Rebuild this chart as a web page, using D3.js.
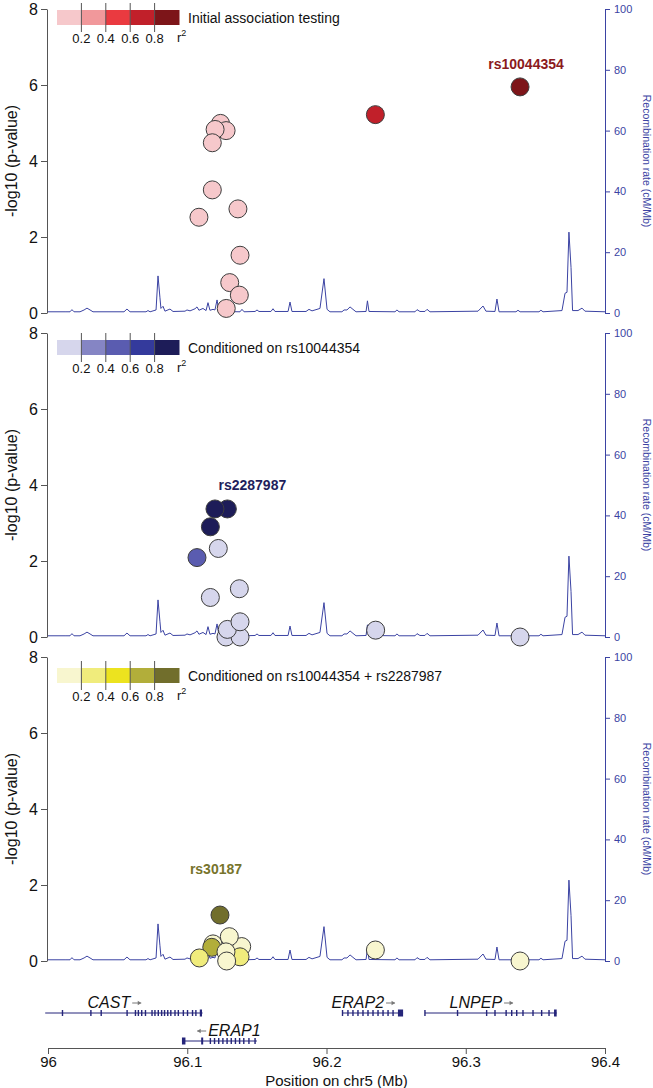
<!DOCTYPE html>
<html>
<head>
<meta charset="utf-8">
<script src="https://cdn.jsdelivr.net/npm/d3@7"></script>
<style>
  body { margin: 0; background: #fff; }
  svg { font-family: "Liberation Sans", Arial, sans-serif; }
</style>
</head>
<body>
<div id="chart"></div>
<script>
// ---- data ----
const r2Breaks = [0.2, 0.4, 0.6, 0.8];
const xTicks = [96, 96.1, 96.2, 96.3, 96.4];
const yTicks = [0, 2, 4, 6, 8];
const recombTicks = [0, 20, 40, 60, 80, 100];

const panelTitles = [
    "Initial association testing",
    "Conditioned on rs10044354",
    "Conditioned on rs10044354 + rs2287987"
];

const redPalette = ["#f6c8cb", "#f1989b", "#ea3a40", "#c1202a", "#7d1519"];
const bluePalette = ["#d6d6ec", "#8585c4", "#5a5cb0", "#343a9c", "#1d1c58"];
const yellowPalette = ["#f8f6cf", "#f0ec7c", "#ece31f", "#b2ae3a", "#716e2c"];

// [position Mb, -log10 p, r2]
const initialSnps = [
    [96.1239, 4.99, 0.1], [96.1279, 4.80, 0.1], [96.1200, 4.83, 0.1],
    [96.1180, 4.48, 0.1], [96.1180, 3.24, 0.1], [96.1364, 2.74, 0.1],
    [96.1084, 2.52, 0.1], [96.1379, 1.52, 0.1], [96.1305, 0.80, 0.1],
    [96.1374, 0.47, 0.1], [96.1280, 0.12, 0.1], [96.2351, 5.22, 0.7],
    [96.3390, 5.95, 1.0]
];
const cond1Snps = [
    [96.1278, 0.0, 0.1], [96.1379, 0.0, 0.1], [96.1288, 0.20, 0.1],
    [96.1379, 0.40, 0.1], [96.1166, 1.04, 0.1], [96.1374, 1.27, 0.1],
    [96.2353, 0.18, 0.1], [96.3390, 0.0, 0.1], [96.1070, 2.09, 0.5],
    [96.1223, 2.33, 0.1], [96.1166, 2.90, 0.9], [96.1288, 3.37, 0.9],
    [96.1199, 3.37, 1.0]
];
const cond2Snps = [
    [96.1391, 0.38, 0.1], [96.1185, 0.45, 0.1], [96.1176, 0.36, 0.7],
    [96.1302, 0.64, 0.1], [96.1087, 0.08, 0.3], [96.1379, 0.11, 0.3],
    [96.1278, 0.24, 0.1], [96.1283, 0.0, 0.1], [96.2351, 0.29, 0.1],
    [96.3390, 0.0, 0.1], [96.1235, 1.21, 1.0]
];

const leadSnps = [
    { name: "rs10044354", pos: 96.3390, logp: 5.95 },
    { name: "rs2287987", pos: 96.1288, logp: 3.37 },
    { name: "rs30187", pos: 96.1235, logp: 1.21 }
];

// [position Mb, cM/Mb]
const recombination = [
    [96.0000, 0.4], [96.0129, 0.4], [96.0158, 0.4], [96.0172, 1.1], [96.0187, 0.4],
    [96.0230, 0.4], [96.0259, 1.0], [96.0280, 1.6], [96.0302, 1.0], [96.0323, 0.4],
    [96.0546, 0.4], [96.0567, 1.3], [96.0589, 0.4], [96.0704, 0.4], [96.0718, 0.8],
    [96.0733, 0.4], [96.0776, 1.0], [96.0790, 12.2], [96.0804, 5.0], [96.0811, 1.5],
    [96.0826, 2.2], [96.0840, 0.6], [96.0876, 1.3], [96.0898, 0.5], [96.0984, 0.6],
    [96.0998, 1.0], [96.1020, 0.7], [96.1056, 1.4], [96.1070, 2.0], [96.1084, 0.9],
    [96.1113, 1.5], [96.1135, 0.8], [96.1149, 3.4], [96.1163, 0.9], [96.1185, 1.2],
    [96.1199, 1.0], [96.1214, 4.3], [96.1228, 0.5], [96.1379, 0.4], [96.1393, 1.2],
    [96.1408, 0.4], [96.1487, 0.5], [96.1501, 1.0], [96.1515, 0.5], [96.1601, 0.5],
    [96.1616, 1.4], [96.1630, 0.5], [96.1724, 0.5], [96.1738, 3.6], [96.1752, 0.5],
    [96.1853, 0.5], [96.1874, 1.2], [96.1896, 0.7], [96.1953, 1.5], [96.1982, 11.3],
    [96.2004, 1.2], [96.2025, 0.4], [96.2111, 0.4], [96.2126, 1.0], [96.2147, 1.0],
    [96.2169, 2.0], [96.2190, 1.2], [96.2212, 0.4], [96.2284, 0.5], [96.2294, 4.0],
    [96.2305, 0.5], [96.2492, 0.4], [96.2506, 1.0], [96.2521, 0.4], [96.2636, 0.4],
    [96.2650, 1.1], [96.2671, 0.5], [96.2707, 0.5], [96.2722, 1.2], [96.2743, 0.4],
    [96.3088, 0.6], [96.3124, 2.3], [96.3145, 0.6], [96.3210, 0.5], [96.3224, 4.6],
    [96.3239, 0.4], [96.3361, 0.4], [96.3375, 0.9], [96.3390, 0.4], [96.3526, 0.4],
    [96.3540, 0.9], [96.3555, 0.4], [96.3691, 0.8], [96.3713, 6.5], [96.3727, 6.8],
    [96.3741, 26.6], [96.3756, 15.0], [96.3767, 0.8], [96.3806, 0.8], [96.3835, 1.6],
    [96.3856, 0.6], [96.4000, 0.4]
];

const genes = [
    { name: "CAST", start: 95.998, end: 96.111, strand: 1, row: 0,
      exons: [96.0104, 96.0308, 96.0382, 96.0568, 96.0628, 96.0649, 96.0673, 96.0700,
              96.0747, 96.0768, 96.0792, 96.0816, 96.0837, 96.0860, 96.0882, 96.0912,
              96.0936, 96.0972, 96.1002, 96.1038, 96.1062],
      blocks: [[96.1090, 96.1106]] },
    { name: "ERAP1", start: 96.0962, end: 96.1500, strand: -1, row: 1,
      exons: [96.1166, 96.1196, 96.1226, 96.1256, 96.1286, 96.1316, 96.1346, 96.1376,
              96.1406, 96.1443, 96.1487],
      blocks: [[96.0962, 96.0987], [96.1100, 96.1112]] },
    { name: "ERAP2", start: 96.2115, end: 96.2550, strand: 1, row: 0,
      exons: [96.2115, 96.2154, 96.2190, 96.2226, 96.2262, 96.2298, 96.2334, 96.2370,
              96.2406, 96.2442, 96.2478],
      blocks: [[96.2513, 96.2550]] },
    { name: "LNPEP", start: 96.2707, end: 96.3653, strand: 1, row: 0,
      exons: [96.2707, 96.2941, 96.3150, 96.3210, 96.3290, 96.3330, 96.3366, 96.3411,
              96.3483, 96.3545, 96.3598],
      blocks: [[96.3634, 96.3653]] }
];

const panels = [
    { title: panelTitles[0], snps: initialSnps, palette: redPalette, lead: leadSnps[0], labelColor: "#8b1a1c" },
    { title: panelTitles[1], snps: cond1Snps, palette: bluePalette, lead: leadSnps[1], labelColor: "#1f1f5c" },
    { title: panelTitles[2], snps: cond2Snps, palette: yellowPalette, lead: leadSnps[2], labelColor: "#77742c" }
];

// ---- layout ----
const width = 653, height = 1088;
const recombColor = "#3b43a3";
const labelNudge = [[6, -18], [25, -19], [-4, -41]];
const legendTops = [10, 340, 668];

const svg = d3.select("#chart")
    .append("svg")
    .attr("width", width)
    .attr("height", height);

const x = d3.scaleLinear().domain([96, 96.4]).range([48, 605]);

panels.forEach((p, i) => {
    const top = 9 + i * 324, bottom = top + 304;
    const y = d3.scaleLinear().domain([0, 8]).range([bottom, top]);
    const yR = d3.scaleLinear().domain([0, 100]).range([bottom, top]);
    const color = d3.scaleThreshold().domain(r2Breaks).range(p.palette);
    const g = svg.append("g");

    // recombination rate
    g.append("path")
        .datum(recombination)
        .attr("fill", "none")
        .attr("stroke", recombColor)
        .attr("stroke-width", 1)
        .attr("d", d3.line().x(d => x(d[0])).y(d => yR(d[1])));

    // left axis
    const la = g.append("g")
        .attr("transform", `translate(${x(96) - 1},0)`)
        .call(d3.axisLeft(y).tickValues(yTicks).tickSize(6).tickSizeOuter(0).tickPadding(3));
    la.select(".domain").attr("stroke", "#555");
    la.selectAll(".tick line").attr("stroke", "#555");
    la.selectAll("text").attr("font-size", 16).attr("fill", "#111").attr("font-family", "Liberation Sans, Arial");

    g.append("text")
        .attr("transform", `translate(17,${(top + bottom) / 2}) rotate(-90)`)
        .attr("text-anchor", "middle")
        .attr("font-size", 16)
        .attr("fill", "#111")
        .text("-log10 (p-value)");

    // right axis
    const ra = g.append("g")
        .attr("transform", `translate(${x(96.4)},0)`)
        .call(d3.axisRight(yR).tickValues(recombTicks).tickSize(5).tickSizeOuter(0).tickPadding(4));
    ra.select(".domain").attr("stroke", recombColor);
    ra.selectAll(".tick line").attr("stroke", recombColor);
    ra.selectAll("text").attr("font-size", 11).attr("fill", recombColor).attr("font-family", "Liberation Sans, Arial");

    g.append("text")
        .attr("transform", `translate(643,${(top + bottom) / 2}) rotate(90)`)
        .attr("text-anchor", "middle")
        .attr("font-size", 10.5)
        .attr("fill", recombColor)
        .text("Recombination rate (cM/Mb)");

    // snps
    g.selectAll("circle.snp")
        .data(p.snps)
        .join("circle")
        .attr("class", "snp")
        .attr("cx", d => x(d[0]))
        .attr("cy", d => y(d[1]))
        .attr("r", 9)
        .attr("fill", d => color(d[2]))
        .attr("stroke", "#3d3d3d")
        .attr("stroke-width", 1);

    g.append("text")
        .attr("x", x(p.lead.pos) + labelNudge[i][0])
        .attr("y", y(p.lead.logp) + labelNudge[i][1])
        .attr("text-anchor", "middle")
        .attr("font-size", 14)
        .attr("font-weight", "bold")
        .attr("fill", p.labelColor)
        .text(p.lead.name);

    // r2 legend
    const lx = 57, segW = 24.4, ly = legendTops[i], lh = 15;
    const leg = g.append("g");
    leg.selectAll("rect")
        .data(p.palette)
        .join("rect")
        .attr("x", (d, k) => lx + k * segW)
        .attr("y", ly)
        .attr("width", segW + 0.5)
        .attr("height", lh)
        .attr("fill", d => d);
    leg.selectAll("line")
        .data(r2Breaks)
        .join("line")
        .attr("x1", (d, k) => lx + (k + 1) * segW)
        .attr("x2", (d, k) => lx + (k + 1) * segW)
        .attr("y1", ly - 7)
        .attr("y2", ly + lh + 7)
        .attr("stroke", "#555")
        .attr("stroke-width", 1);
    leg.selectAll("text.tick")
        .data(r2Breaks)
        .join("text")
        .attr("class", "tick")
        .attr("x", (d, k) => lx + (k + 1) * segW)
        .attr("y", ly + lh + 18)
        .attr("text-anchor", "middle")
        .attr("font-size", 13)
        .attr("fill", "#111")
        .text(d => d.toFixed(1));
    const r2 = leg.append("text")
        .attr("x", lx + 5 * segW - 2)
        .attr("y", ly + lh + 17)
        .attr("font-size", 13)
        .attr("fill", "#111");
    r2.append("tspan").text("r");
    r2.append("tspan").attr("dy", -6).attr("font-size", 9).text("2");
    leg.append("text")
        .attr("x", lx + 5 * segW + 9)
        .attr("y", ly + lh / 2 + 5)
        .attr("font-size", 14)
        .attr("fill", "#111")
        .text(p.title);
});

// ---- gene track ----
const rowY = [1013, 1041];
const geneColor = "#25257a";
const gt = svg.append("g");

genes.forEach(gn => {
    const gy = rowY[gn.row];
    gt.append("line")
        .attr("x1", x(gn.start)).attr("x2", x(gn.end))
        .attr("y1", gy).attr("y2", gy)
        .attr("stroke", geneColor).attr("stroke-width", 1);
    gt.selectAll(null)
        .data(gn.exons)
        .join("rect")
        .attr("x", d => x(d) - 0.7)
        .attr("y", gy - 3)
        .attr("width", 1.4)
        .attr("height", 6)
        .attr("fill", geneColor);
    gt.selectAll(null)
        .data(gn.blocks)
        .join("rect")
        .attr("x", d => x(d[0]))
        .attr("y", gy - 3.5)
        .attr("width", d => Math.max(2, x(d[1]) - x(d[0])))
        .attr("height", 7)
        .attr("fill", geneColor);

    const cx = (x(gn.start) + x(gn.end)) / 2 - 15 * gn.strand;
    const label = gt.append("text")
        .attr("x", cx)
        .attr("y", gy - 5)
        .attr("text-anchor", "middle")
        .attr("font-size", 16)
        .attr("font-style", "italic")
        .attr("fill", "#111")
        .text(gn.name);
    const half = label.node().getComputedTextLength() / 2;
    // strand arrow
    const ax = gn.strand > 0 ? cx + half + 2 : cx - half - 2;
    const ay = gy - 10;
    const ex = ax + 9 * gn.strand;
    gt.append("line")
        .attr("x1", ax).attr("x2", ex)
        .attr("y1", ay).attr("y2", ay)
        .attr("stroke", "#777").attr("stroke-width", 1);
    gt.append("path")
        .attr("d", `M${ex},${ay}L${ex - 3.5 * gn.strand},${ay - 2.2}L${ex - 3.5 * gn.strand},${ay + 2.2}Z`)
        .attr("fill", "#777");
});

// ---- position axis ----
const xa = svg.append("g")
    .attr("transform", "translate(0,1048)")
    .call(d3.axisBottom(x).tickValues(xTicks).tickSize(6).tickSizeOuter(0).tickPadding(2).tickFormat(d => String(d)));
xa.select(".domain").attr("stroke", "#555");
xa.selectAll(".tick line").attr("stroke", "#555");
xa.selectAll("text").attr("font-size", 15).attr("fill", "#111").attr("font-family", "Liberation Sans, Arial");

svg.append("text")
    .attr("x", (x(96) + x(96.4)) / 2 + 10)
    .attr("y", 1086)
    .attr("text-anchor", "middle")
    .attr("font-size", 15)
    .attr("fill", "#111")
    .text("Position on chr5 (Mb)");
</script>
</body>
</html>
